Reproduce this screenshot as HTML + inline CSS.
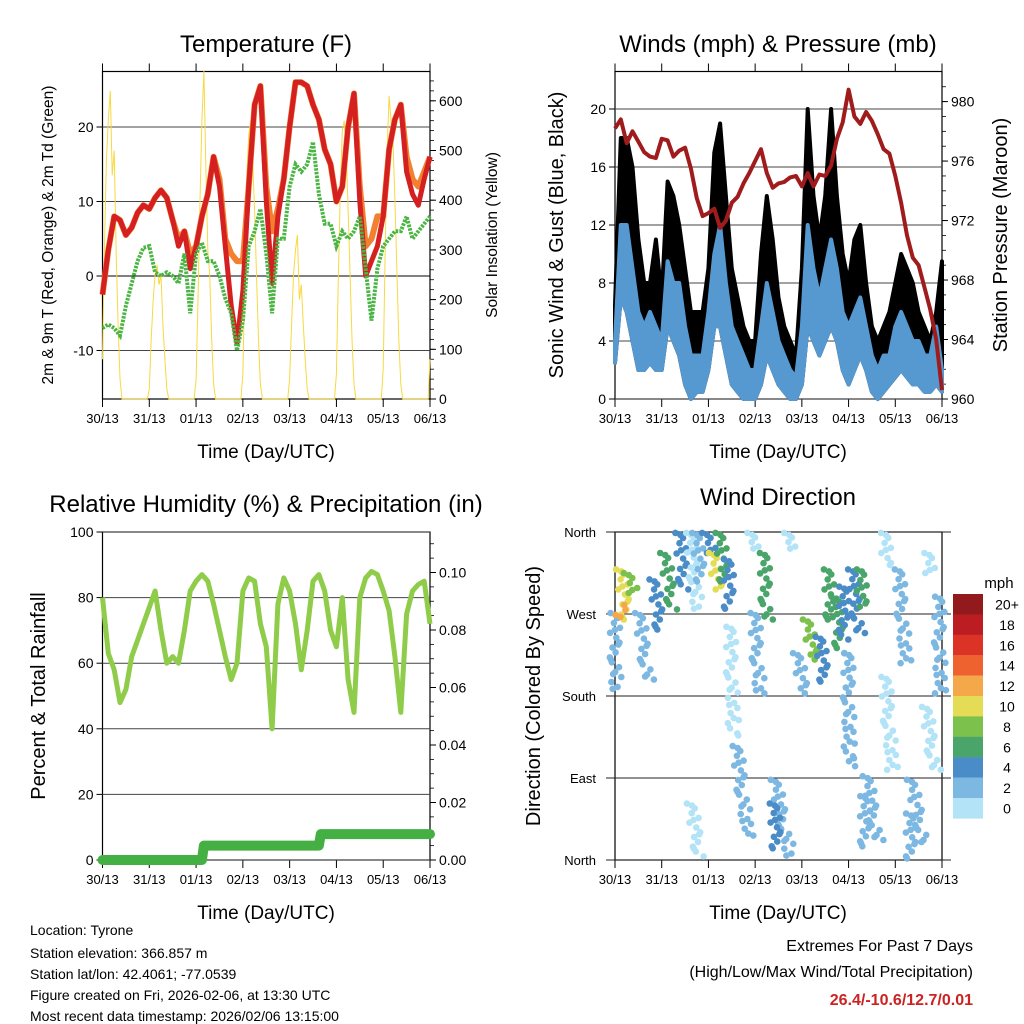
<!DOCTYPE html>
<html><head><meta charset="utf-8"><style>
html,body{margin:0;padding:0;background:#fff}
svg{display:block;font-family:"Liberation Sans",sans-serif}
</style></head><body>
<svg id="c" width="1024" height="1024" viewBox="0 0 1024 1024" xmlns="http://www.w3.org/2000/svg">
<rect width="1024" height="1024" fill="#fff"/>
<text x="266" y="52" font-size="24" text-anchor="middle">Temperature (F)</text>
<text x="778" y="52" font-size="24" text-anchor="middle">Winds (mph) &amp; Pressure (mb)</text>
<text x="266" y="512" font-size="24" text-anchor="middle">Relative Humidity (%) &amp; Precipitation (in)</text>
<text x="778" y="505" font-size="24" text-anchor="middle">Wind Direction</text>
<text x="266" y="458" font-size="19" text-anchor="middle">Time (Day/UTC)</text>
<text x="778" y="458" font-size="19" text-anchor="middle">Time (Day/UTC)</text>
<text x="266" y="919" font-size="19" text-anchor="middle">Time (Day/UTC)</text>
<text x="778" y="919" font-size="19" text-anchor="middle">Time (Day/UTC)</text>
<text transform="translate(53,235) rotate(-90)" font-size="15.5" text-anchor="middle">2m &amp; 9m T (Red, Orange) &amp; 2m Td (Green)</text>
<text transform="translate(497,235) rotate(-90)" font-size="15.5" text-anchor="middle">Solar Insolation (Yellow)</text>
<text transform="translate(563,235) rotate(-90)" font-size="20" text-anchor="middle">Sonic Wind &amp; Gust (Blue, Black)</text>
<text transform="translate(1007,235) rotate(-90)" font-size="20" text-anchor="middle">Station Pressure (Maroon)</text>
<text transform="translate(45,696) rotate(-90)" font-size="20" text-anchor="middle">Percent &amp; Total Rainfall</text>
<text transform="translate(540,696) rotate(-90)" font-size="20" text-anchor="middle">Direction (Colored By Speed)</text>
<text x="999" y="588" font-size="15" text-anchor="middle">mph</text>
<g font-size="14">
<text x="30" y="935">Location: Tyrone</text>
<text x="30" y="958">Station elevation: 366.857 m</text>
<text x="30" y="979">Station lat/lon: 42.4061; -77.0539</text>
<text x="30" y="1000">Figure created on Fri, 2026-02-06, at 13:30 UTC</text>
<text x="30" y="1021">Most recent data timestamp: 2026/02/06 13:15:00</text>
</g>
<text x="973" y="951" font-size="16" text-anchor="end">Extremes For Past 7 Days</text>
<text x="973" y="977" font-size="16" text-anchor="end">(High/Low/Max Wind/Total Precipitation)</text>
<text x="973" y="1005" font-size="16" font-weight="bold" fill="#cc2222" text-anchor="end">26.4/-10.6/12.7/0.01</text>
</svg>
<script>
const dayLabels=["30/13","31/13","01/13","02/13","03/13","04/13","05/13","06/13"];
const tempRed=[-2.5,3.5,8,7.5,5.5,6.5,8.5,9.5,9,10.5,11.5,10.5,7.5,4,6,1,4,8,11,16,12,4,-4,-9,-2,12,23,25.5,10,-1,8,13,20,26,26,25.5,23,21,17,15,10,12,20,24.5,10,0,2,4,8,17,21,23,14,11,9.5,13,16];
const tempOrange=[-2.5,3.5,8,7.5,5.5,6.5,8.5,9.5,9,10.5,11.5,10.5,7.5,5,6,3,4,8,11,16,13,5,3,2,2,12,23,25.5,12,6,9,13,20,26,26,25.5,23,21,17,15,10,12,20,24.5,12,4,5,8,8,17,21,23,16,13,12,14,16];
const dewGreen=[-7,-6.5,-7,-8,-4,-1,2,3.8,4,0.5,0,0.5,0,-1,3,-5,3,4.5,2,2,0,-3,-5,-10,-6,4,6,9,3,-5,5,5,12,15,14,15,18,11,7,7,4,6,5,6,8,1,-6,1,4,5,6,6,8,5,6,7,8];
const solar=[80,300,480,560,620,450,500,300,150,40,0,0,0,0,0,0,0,0,0,0,0,0,0,0,20,120,200,250,270,230,250,150,80,20,0,0,0,0,0,0,0,0,0,0,0,0,0,0,40,200,400,560,660,470,300,250,120,30,0,0,0,0,0,0,0,0,0,0,0,0,0,0,50,250,450,530,560,480,380,250,120,30,0,0,0,0,0,0,0,0,0,0,0,0,0,0,40,150,250,300,330,200,230,150,80,20,0,0,0,0,0,0,0,0,0,0,0,0,0,0,50,250,420,540,560,500,380,250,120,30,0,0,0,0,0,0,0,0,0,0,0,0,0,0,60,300,500,610,560,520,400,260,120,30,0,0,0,0,0,0,0,0,0,0,0,0,0,0,80];
const windHigh=[4,12,12,9,6,5,6,5,4,9.5,8,8,5,3,3,3,6,10,12,8,5,4,3,2,2,5,8,6,4,3,2,1.5,5,12,9,7,9,11,9,6,5,6,7,5,3,2,3,3,5,6,5,4,4,3,3,5,2];
const windLow=[2.5,7,6,4,2,2,2.5,2,2,5,4,3,1,0,0.5,0.5,2,5,5,3,1,0.5,0,0,0,1,3,2,1,0.5,0,0,1,5,4,3,4,5,4,2,1,2,3,2,0.5,0,0.5,1,1.5,2,1.5,1,1,0.5,0.5,1,0.5];
const gust=[6.5,18,18,16,11,8,8,11,7,15,14,12,9,6,6,6,9,17,19,14,9,7,5,4,4,10,14,11,7,5,4,3,9,20,14,11,14,20,14,10,8,11,12,8,5,4,5,6,8,10,9,8,6,5,4,6,9.5];
const pressure=[978.2,978.8,977.2,978,977.3,976.6,976.3,976.2,977.5,977.4,976.3,976.7,976.9,975.5,973.5,972.3,972.5,972.8,971.5,972,973.2,973.6,974.5,975.2,976,976.8,975.2,974.2,974.5,974.6,974.9,975,974.3,975.2,974.3,975.1,975,975.7,977.5,978.6,980.8,979,978.5,979.3,978.7,977.8,976.8,976.5,975,973.2,971,969.5,969,967.5,966,964,960.6];
const rh=[80,63,58,48,52,62,67,72,77,82,70,60,62,60,70,82,85,87,85,78,70,62,55,60,82,86,85,72,65,40,78,86,82,72,58,70,85,87,82,70,65,80,55,45,80,86,88,87,82,76,62,45,75,82,84,85,72];
const precipHours=[0,51,52,111,112,168];
const precipTotals=[0,0,0.005,0.005,0.009,0.009];
// direction segments: center hour, hour span, deg from, deg to, speed mph
const dirHour=[0.3,4.6,8.1,3.8,14.9,21.8,27.8,34.6,40.6,43.2,48.3,51.8,55.2,58.6,60.3,65.5,73.2,77.5,86.1,82.6,95.5,100.6,106.6,110.4,114.8,117.8,120.3,123.8,126.8,132.3,128.6,140.9,147.8,155.5,152.1,162.3,167,41.5,139.2,161.5,70.6,89.5];
const dirSpan=[1,4,3,3,5,4,5,3,4,3,3,3,3,1,2,6,3,2,8,2,4,4,3,2,3,1,1,4,1,6,1,4,4,7,1,5,1,5,1,1,1,1];
const dirFrom=[271,319,315,269,271,308,337,359,359,359,359,337,359,330,256,125,271,337,88,62,227,264,245,319,289,300,227,319,319,92,70,201,319,88,51,168,289,62,359,337,359,359];
const dirTo=[190,264,293,280,198,253,275,297,278,308,337,297,308,278,139,29,183,264,7,15,183,220,198,264,227,242,103,249,278,22,15,99,216,22,4,99,183,4,326,315,344,344];
const dirSpeed=[3,10,8,12,3.5,4,7,4,1,3,5,10,7,4,1,2,3.5,7,2,4,3,8,4,7,6,4,3,4,6,2,3,1,3,2,3.5,1,3,1,0,0,0,0];
const binLabels=["20+","18","16","14","12","10","8","6","4","2","0"];
const binColors=["#921a1c","#bb1d23","#dc3327","#ee6230","#f4a84a","#e5dc55","#7cc14b","#4aa56a","#4a8cc7","#7db8e3","#b3e3f7"];

const svg=document.getElementById('c');
const NS="http://www.w3.org/2000/svg";
function mk(tag,attrs,parent){const e=document.createElementNS(NS,tag);for(const k in attrs)e.setAttribute(k,attrs[k]);(parent||svg).appendChild(e);return e;}
function xs(L,R){return h=>L+h/168*(R-L);}
function linePts(vals,step,xf,yf){return vals.map((v,i)=>xf(i*step).toFixed(1)+","+yf(v).toFixed(1)).join(" ");}

function frame(L,R,T,B,name,topTicks){
  const g=mk('g',{});
  
  
  mk('rect',{x:L,y:T,width:R-L,height:B-T,fill:'none',stroke:'#000','stroke-width':1.2},g);
  const xf=xs(L,R);
  dayLabels.forEach((d,i)=>{
    const x=xf(i*24);
    mk('line',{x1:x,y1:B,x2:x,y2:B+8,stroke:'#000'},g);
    if(topTicks) mk('line',{x1:x,y1:T,x2:x,y2:T-8,stroke:'#000'},g);
    const t=mk('text',{x:x,y:B+24,'font-size':13,'text-anchor':'middle'},g);
    t.textContent=d;
    
    
  });
  return g;
}
function yTicks(g,vals,yf,x,side,fmt,grid,L,R){
  vals.forEach(v=>{
    const y=yf(v);
    if(grid) mk('line',{x1:L,y1:y,x2:R,y2:y,stroke:v===0&&grid==='temp'?'#000':'#444','stroke-width':1},g);
    mk('line',{x1:x,y1:y,x2:x+(side<0?-6:6),y2:y,stroke:'#000'},g);
    const t=mk('text',{x:x+(side<0?-9:9),y:y+5,'font-size':14,'text-anchor':side<0?'end':'start'},g);
    t.textContent=fmt(v);
    
    
  });
}
function minor(g,from,to,step,yf,x){for(let v=from;v<=to+1e-9;v+=step){const y=yf(v);mk('line',{x1:x,y1:y,x2:x+4,y2:y,stroke:'#000','stroke-width':0.8},g);}}

// ---------- Temperature ----------
{const L=102.5,R=430,T=71.5,B=399,xf=xs(L,R);
 const yT=v=>276-v*7.45, yS=s=>399-s*0.497;
 const g=frame(L,R,T,B,'temperature',true);
 yTicks(g,[-10,0,10,20],yT,L,-1,v=>v,'temp',L,R);
 yTicks(g,[0,100,200,300,400,500,600],yS,R,1,v=>v,null);
 minor(g,0,640,20,yS,R);
 const sl=mk('polyline',{points:linePts(solar,1,xf,yS),fill:'none',stroke:'#f7d940','stroke-width':1});
 
 
 const ol=mk('polyline',{points:linePts(tempOrange,3,xf,yT),fill:'none',stroke:'#f28030','stroke-width':6,'stroke-linejoin':'round'});
 
 
 const rl=mk('polyline',{points:linePts(tempRed,3,xf,yT),fill:'none',stroke:'#d42020','stroke-width':5,'stroke-linejoin':'round'});
 
 
 const gl=mk('polyline',{points:linePts(dewGreen,3,xf,yT),fill:'none',stroke:'#4ab543','stroke-width':4,'stroke-dasharray':'2.5 1.2'});
 
 
}
// ---------- Winds ----------
{const L=615,R=942,T=71.5,B=399,xf=xs(L,R);
 const yW=v=>399-v*14.5, yP=p=>399-(p-960)*14.87;
 const g=frame(L,R,T,B,'winds',true);
 yTicks(g,[0,4,8,12,16,20],yW,L,-1,v=>v,'wind',L,R);
 yTicks(g,[960,964,968,972,976,980],yP,R,1,v=>v,null);
 minor(g,960,981,1,yP,R);
 const up=gust.map((v,i)=>xf(i*3).toFixed(1)+","+yW(v).toFixed(1));
 const lo=windLow.map((v,i)=>xf(i*3).toFixed(1)+","+yW(v).toFixed(1)).reverse();
 const ga=mk('polygon',{points:up.concat(lo).join(" "),fill:'#000',stroke:'#000','stroke-width':4,'stroke-linejoin':'round'});
 
 
 const bu=windHigh.map((v,i)=>xf(i*3).toFixed(1)+","+yW(v).toFixed(1));
 const ba=mk('polygon',{points:bu.concat(lo).join(" "),fill:'#5599d0',stroke:'#5599d0','stroke-width':4,'stroke-linejoin':'round'});
 
 
 const pl=mk('polyline',{points:linePts(pressure,3,xf,yP),fill:'none',stroke:'#a01c1c','stroke-width':4,'stroke-linejoin':'round'});
 
 
}
// ---------- RH ----------
{const L=102.5,R=430,T=532,B=860,xf=xs(L,R);
 const yR=v=>860-v*3.28, yPr=p=>860-p*2875;
 const g=frame(L,R,T,B,'humidity',false);
 yTicks(g,[0,20,40,60,80,100],yR,L,-1,v=>v,'rh',L,R);
 yTicks(g,[0,0.02,0.04,0.06,0.08,0.10],yPr,R,1,v=>v.toFixed(2),null);
 minor(g,0,0.11,0.005,yPr,R);
 const hl=mk('polyline',{points:linePts(rh,3,xf,yR),fill:'none',stroke:'#8fcc4a','stroke-width':5,'stroke-linejoin':'round'});
 
 
 const pp=precipTotals.map((v,i)=>xf(precipHours[i]).toFixed(1)+","+yPr(v).toFixed(1)).join(" ");
 const pr=mk('polyline',{points:pp,fill:'none',stroke:'#44b044','stroke-width':10,'stroke-linecap':'round','stroke-linejoin':'round'});
 
 
}
// ---------- Direction ----------
{const L=615,R=942,T=532,B=860,xf=xs(L,R);
 const yD=d=>860-d/360*328;
 const g=frame(L,R,T,B,'direction',false);
 const names=["North","East","South","West","North"];
 [0,90,180,270,360].forEach((d,i)=>{
   const y=yD(d);
   mk('line',{x1:606,y1:y,x2:951,y2:y,stroke:'#222'},g);
   const t=mk('text',{x:596,y:y+5,'font-size':13,'text-anchor':'end'},g);
   t.textContent=names[i];
   
   
 });
 const dg=mk('g',{});
 
 
 const offs=[-4,3,-1,5,-5,1,4,-3,0,-6];
 dirHour.forEach((h,i)=>{
   const bin=Math.min(10,Math.floor(dirSpeed[i]/2));
   const col=binColors[10-bin];
   const x0=xf(h-dirSpan[i]/2),x1=xf(h+dirSpan[i]/2),y0=yD(dirFrom[i]),y1=yD(dirTo[i]);
   const n=Math.max(2,Math.round(Math.hypot(x1-x0,y1-y0)/5));
   for(let k=0;k<=n;k++){
     const f=k/n;
     mk('circle',{cx:(x0+(x1-x0)*f+offs[k%10]).toFixed(1),cy:(y0+(y1-y0)*f).toFixed(1),r:3.3,fill:col},dg);
     if(k%3===0) mk('circle',{cx:(x0+(x1-x0)*f+offs[(k+5)%10]).toFixed(1),cy:(y0+(y1-y0)*f+2).toFixed(1),r:3.3,fill:col},dg);
   }
 });
 binLabels.forEach((lab,i)=>{
   const y=594+i*20.4;
   const r=mk('rect',{x:953,y:y,width:30,height:20.6,fill:binColors[i]});
   
   
   const t=mk('text',{x:1007,y:y+15.5,'font-size':14,'text-anchor':'middle'});
   t.textContent=lab;
   
   
 });
}
</script>
</body></html>
